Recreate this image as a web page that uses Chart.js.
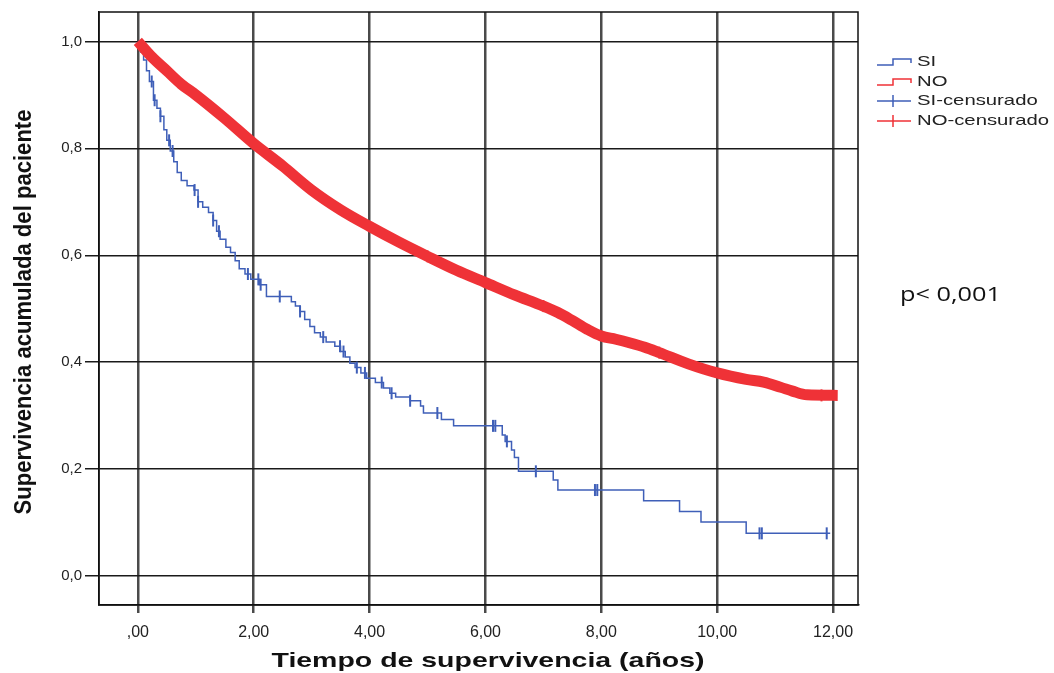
<!DOCTYPE html>
<html>
<head>
<meta charset="utf-8">
<script src="https://cdn.jsdelivr.net/npm/chart.js@4.4.0/dist/chart.umd.min.js"></script>
<style>
body { margin: 0; background: #fff; }
#wrap { width: 1054px; height: 673px; }
</style>
</head>
<body>
<div id="wrap"><canvas id="km" width="1054" height="673"></canvas></div>
<script>
// Curva SI (escalones Kaplan-Meier): tiempo en años y supervivencia tras cada evento
const siTimes = [0, 0.05, 0.1, 0.15, 0.2, 0.27, 0.33, 0.39, 0.45, 0.5, 0.56, 0.62, 0.68, 0.75, 0.85,
    0.97, 1.04, 1.12, 1.22, 1.3, 1.36, 1.42, 1.52, 1.6, 1.68, 1.75, 1.85, 1.95, 2.1, 2.22,
    2.65, 2.72, 2.8, 2.88, 2.97, 3.05, 3.15, 3.25, 3.4, 3.5, 3.58, 3.66, 3.75, 3.85, 3.95,
    4.1, 4.24, 4.35, 4.45, 4.7, 4.88, 4.93, 5.24, 5.45, 6.29, 6.34, 6.45, 6.5, 6.57, 7.17,
    7.25, 8.73, 9.35, 9.72, 10.5, 11.95];
const siSurv = [1.0, 0.98, 0.965, 0.945, 0.925, 0.89, 0.875, 0.86, 0.835, 0.815, 0.795, 0.775, 0.755, 0.74, 0.73,
    0.722, 0.70, 0.69, 0.68, 0.665, 0.645, 0.63, 0.615, 0.605, 0.59, 0.575, 0.565, 0.555, 0.545, 0.523,
    0.513, 0.505, 0.495, 0.48, 0.467, 0.455, 0.447, 0.438, 0.43, 0.42, 0.41, 0.398, 0.39, 0.38, 0.37,
    0.362, 0.352, 0.342, 0.335, 0.328, 0.318, 0.305, 0.293, 0.281, 0.264, 0.252, 0.236, 0.222, 0.196, 0.18,
    0.161, 0.141, 0.121, 0.101, 0.080, 0.080];

// Censurados SI
const siCensTimes = [0.24, 0.29, 0.39, 0.54, 0.6, 0.98, 1.04, 1.3, 1.4, 1.9, 2.08, 2.12, 2.45, 2.8,
    3.2, 3.49, 3.55, 3.78, 3.92, 4.21, 4.38, 4.7, 5.17, 6.13, 6.17, 6.37, 6.87, 7.89, 7.93,
    10.73, 10.77, 11.89];
const siCensSurv = [0.925, 0.89, 0.86, 0.815, 0.795, 0.722, 0.70, 0.665, 0.645, 0.565, 0.555, 0.545, 0.523, 0.495,
    0.447, 0.43, 0.42, 0.39, 0.38, 0.362, 0.342, 0.328, 0.305, 0.281, 0.281, 0.252, 0.196, 0.161, 0.161,
    0.08, 0.08, 0.08];

// Curva NO (muy densa, casi continua)
const noTimes = [0, 0.25, 0.5, 0.75, 1, 1.5, 2, 2.5, 3, 3.5, 4, 4.5, 5, 5.5, 6, 6.5,
    7, 7.25, 7.5, 7.75, 8, 8.25, 8.5, 8.75, 9, 9.5, 10, 10.5, 10.8, 11.1, 11.3, 11.55, 12.08];
const noSurv = [1.0, 0.97, 0.945, 0.92, 0.9, 0.856, 0.809, 0.767, 0.722, 0.685, 0.654, 0.625, 0.598, 0.572, 0.549, 0.526,
    0.505, 0.493, 0.478, 0.462, 0.449, 0.443, 0.436, 0.428, 0.418, 0.397, 0.38, 0.368, 0.363, 0.353, 0.346, 0.339, 0.338];

// Censurados NO (algunos, quedan dentro de la banda)
const noCensTimes = [1, 3, 5, 7, 9, 11.8];
const noCensSurv = [0.9, 0.722, 0.598, 0.505, 0.418, 0.338];

const xTicks = [0, 2, 4, 6, 8, 10, 12];
const yTicks = [0, 0.2, 0.4, 0.6, 0.8, 1.0];
const legendLabels = ['SI', 'NO', 'SI-censurado', 'NO-censurado'];

const blue = '#3f5fb8';
const red = '#ef3237';

function pairs(xs, ys) {
    return xs.map((x, i) => ({ x: x, y: ys[i] }));
}

// texto estirado en horizontal, como en la imagen original
function stretchText(ctx, text, x, y, font, targetW, align, rot, hScale) {
    ctx.save();
    ctx.font = font;
    const w = ctx.measureText(text).width;
    ctx.translate(x, y);
    if (rot) ctx.rotate(rot);
    ctx.scale(targetW / w, hScale || 1);
    ctx.textAlign = align;
    ctx.textBaseline = 'middle';
    ctx.fillText(text, 0, 0);
    ctx.restore();
}

const extras = {
    id: 'extras',
    afterDraw(chart) {
        const ctx = chart.ctx;
        const a = chart.chartArea;
        ctx.save();
        ctx.strokeStyle = '#111';
        ctx.lineWidth = 1.5;
        ctx.strokeRect(a.left, a.top, a.right - a.left, a.bottom - a.top);

        ctx.fillStyle = '#111';
        stretchText(ctx, 'Tiempo de supervivencia (años)', 488, 661, 'bold 21px "Liberation Sans"', 433, 'center');
        stretchText(ctx, 'Supervivencia acumulada del paciente', 25, 312, 'bold 18px "Liberation Sans"', 405, 'center', -Math.PI / 2, 1.3);
        stretchText(ctx, 'p< 0,001', 900, 295, '20px "Open Sans"', 101, 'left');

        // leyenda
        ctx.font = '15px "Liberation Sans"';
        const sx = 132 / ctx.measureText('NO-censurado').width;
        const rows = [62, 82, 101, 121];
        const cols = [blue, red, blue, red];
        rows.forEach((cy, i) => {
            ctx.strokeStyle = cols[i];
            ctx.lineWidth = 1.5;
            ctx.beginPath();
            if (i < 2) {
                ctx.moveTo(877, cy + 3);
                ctx.lineTo(893, cy + 3);
                ctx.lineTo(893, cy - 3);
                ctx.lineTo(911, cy - 3);
                ctx.lineTo(911, cy + 1);
            } else {
                ctx.moveTo(877, cy);
                ctx.lineTo(911, cy);
                ctx.moveTo(893, cy - 6);
                ctx.lineTo(893, cy + 6);
            }
            ctx.stroke();
            ctx.fillStyle = '#222';
            ctx.save();
            ctx.translate(917, cy);
            ctx.scale(sx, 1);
            ctx.textAlign = 'left';
            ctx.textBaseline = 'middle';
            ctx.fillText(legendLabels[i], 0, 0);
            ctx.restore();
        });
        ctx.restore();
    }
};

new Chart(document.getElementById('km'), {
    type: 'line',
    data: {
        datasets: [
            {
                label: legendLabels[1],
                data: pairs(noTimes, noSurv),
                borderColor: red,
                borderWidth: 11,
                pointRadius: 0,
                cubicInterpolationMode: 'monotone',
                borderCapStyle: 'butt',
                order: 0
            },
            {
                label: legendLabels[3],
                data: pairs(noCensTimes, noCensSurv),
                showLine: false,
                pointStyle: 'line',
                rotation: 90,
                pointRadius: 6,
                pointBorderWidth: 2,
                pointBorderColor: red,
                order: 0
            },
            {
                label: legendLabels[0],
                data: pairs(siTimes, siSurv),
                borderColor: blue,
                borderWidth: 1.5,
                stepped: true,
                pointRadius: 0,
                order: 2
            },
            {
                label: legendLabels[2],
                data: pairs(siCensTimes, siCensSurv),
                showLine: false,
                pointStyle: 'line',
                rotation: 90,
                pointRadius: 6,
                pointBorderWidth: 2,
                pointBorderColor: blue,
                order: 1
            }
        ]
    },
    options: {
        responsive: false,
        animation: false,
        layout: { padding: { left: 0, right: 196, top: 12, bottom: 0 } },
        plugins: {
            legend: { display: false },
            tooltip: { enabled: false }
        },
        scales: {
            x: {
                type: 'linear',
                min: -0.67,
                max: 12.43,
                afterBuildTicks: s => { s.ticks = xTicks.map(v => ({ value: v })); },
                afterFit: s => { s.height = 68; },
                grid: { color: '#4a4a4a', lineWidth: 2.5, tickLength: 8 },
                border: { display: true, color: '#111', width: 1.5 },
                ticks: {
                    autoSkip: false,
                    maxRotation: 0,
                    padding: 10,
                    color: '#222',
                    font: { family: 'Liberation Sans', size: 16 },
                    callback: v => v === 0 ? ',00' : v.toFixed(2).replace('.', ',')
                }
            },
            y: {
                min: -0.054,
                max: 1.055,
                afterBuildTicks: s => { s.ticks = yTicks.map(v => ({ value: v })); },
                afterFit: s => { s.width = 99; },
                grid: { color: '#1a1a1a', lineWidth: 1.5, tickLength: 14 },
                border: { display: true, color: '#111', width: 1.5 },
                ticks: {
                    autoSkip: false,
                    padding: 3,
                    color: '#222',
                    font: { family: 'Liberation Sans', size: 15 },
                    callback: v => v.toFixed(1).replace('.', ',')
                }
            }
        }
    },
    plugins: [extras]
});
</script>
</body>
</html>
